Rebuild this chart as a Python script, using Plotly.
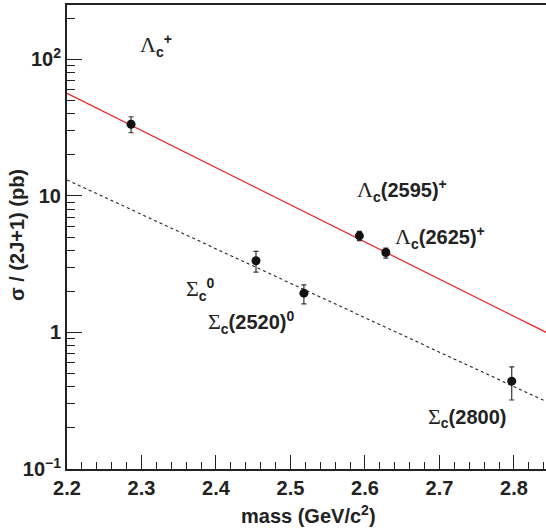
import plotly.graph_objects as go

# ---- data ----
lam_mass = [2.286, 2.5925, 2.628]
lam_sigma = [33.5, 5.1, 3.85]
lam_err_up = [4.5, 0.4, 0.3]
lam_err_dn = [4.5, 0.4, 0.35]

sig_mass = [2.4537, 2.518, 2.797]
sig_sigma = [3.35, 1.94, 0.44]
sig_err_up = [0.57, 0.29, 0.12]
sig_err_dn = [0.58, 0.32, 0.12]

red_fit_x = [2.2, 2.85]
red_fit_y = [56.4, 0.96]
dash_fit_x = [2.2, 2.85]
dash_fit_y = [13.1, 0.30]

y_tickvals = [0.1, 1, 10, 100]
y_ticktext = ["10<sup>\u22121</sup>", "1", "10", "10<sup>2</sup>"]
y_minor = [m * d for d in (0.1, 1, 10) for m in range(2, 10)] + [200]

SYM = "<span style=\"font-family:'Liberation Serif';font-weight:normal;font-size:22px\">{}</span>"
LAM = SYM.format("\u039b")
SIG = SYM.format("\u03a3")

labels = [
    (LAM + "<sub>c</sub><sup>+</sup>", 156, 45),
    (LAM + "<sub>c</sub>(2595)<sup>+</sup>", 402, 190),
    (LAM + "<sub>c</sub>(2625)<sup>+</sup>", 440, 237),
    (SIG + "<sub>c</sub><sup>0</sup>", 200, 289),
    (SIG + "<sub>c</sub>(2520)<sup>0</sup>", 251, 322),
    (SIG + "<sub>c</sub>(2800)", 467, 417),
]

W, H = 546, 529
ML, MR, MT, MB = 67, 0, 5, 60
FONT = "Liberation Sans, Arial, sans-serif"
INK = "#222222"
FS = 20

fig = go.Figure()
fig.add_trace(go.Scatter(x=red_fit_x, y=red_fit_y, mode="lines",
                         line=dict(color="#ee1c1c", width=1.2), showlegend=False))
fig.add_trace(go.Scatter(x=dash_fit_x, y=dash_fit_y, mode="lines",
                         line=dict(color="#222222", width=1.1, dash="3px,3px"), showlegend=False))
fig.add_trace(go.Scatter(x=lam_mass + sig_mass, y=lam_sigma + sig_sigma, mode="markers",
                         marker=dict(color="#111111", size=9),
                         error_y=dict(type="data", symmetric=False,
                                      array=lam_err_up + sig_err_up,
                                      arrayminus=lam_err_dn + sig_err_dn,
                                      color="#333333", thickness=1.2, width=2.5),
                         showlegend=False))

def px_to_paper(px, py):
    return (px - ML) / (W - ML - MR), 1 - (py - MT) / (H - MT - MB)

for txt, px, py in labels:
    ax, ay = px_to_paper(px, py)
    fig.add_annotation(text=txt, x=ax, y=ay, xref="paper", yref="paper",
                       showarrow=False, xanchor="center", yanchor="middle",
                       font=dict(family=FONT, size=FS, color=INK, weight="bold"))

# axis titles
tx, ty = px_to_paper(308, 514)
fig.add_annotation(text="mass (GeV/c<sup>2</sup>)", x=tx, y=ty, xref="paper", yref="paper",
                   showarrow=False, xanchor="center", yanchor="middle",
                   font=dict(family=FONT, size=FS, color=INK, weight="bold"))
tx, ty = px_to_paper(17, 235)
fig.add_annotation(text="\u03c3 / (2J+1) (pb)", x=tx, y=ty, xref="paper", yref="paper",
                   showarrow=False, xanchor="center", yanchor="middle", textangle=-90,
                   font=dict(family=FONT, size=FS, color=INK, weight="bold"))

fig.update_layout(
    width=W, height=H,
    margin=dict(l=ML, r=MR, t=MT, b=MB),
    paper_bgcolor="white", plot_bgcolor="white",
    showlegend=False,
    xaxis=dict(range=[2.2, 2.843], dtick=0.1, tick0=2.2, tickformat=".1f",
               ticks="inside", ticklen=14, tickwidth=1.2, tickcolor=INK,
               showline=True, linecolor=INK, linewidth=2, mirror=True,
               showgrid=False, zeroline=False,
               minor=dict(ticks="inside", ticklen=7, tickwidth=1, tickcolor=INK,
                          dtick=0.02, showgrid=False),
               tickfont=dict(family=FONT, size=FS, color=INK, weight="bold")),
    yaxis=dict(type="log", range=[-1, 2.398],
               tickvals=y_tickvals, ticktext=y_ticktext,
               ticks="inside", ticklen=15, tickwidth=1.2, tickcolor=INK,
               showline=True, linecolor=INK, linewidth=2, mirror=False,
               showgrid=False, zeroline=False,
               minor=dict(ticks="inside", ticklen=8, tickwidth=1, tickcolor=INK,
                          tickvals=y_minor, showgrid=False),
               tickfont=dict(family=FONT, size=FS, color=INK, weight="bold")),
)

fig.write_html("out.html", config={"displayModeBar": False},
               post_script="document.body.style.margin='0';document.body.style.overflow='hidden';")
